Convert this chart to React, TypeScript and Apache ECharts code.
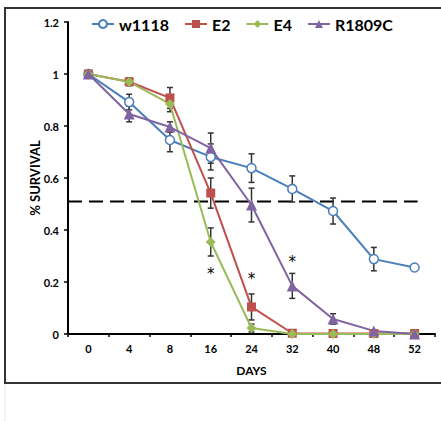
import React, { useEffect, useRef } from "react";
import * as echarts from "echarts";

const days = ["0", "4", "8", "16", "24", "32", "40", "48", "52"];
const w1118 = [1, 0.892, 0.746, 0.681, 0.638, 0.558, 0.473, 0.288, 0.256];
const e2 = [1, 0.97, 0.908, 0.542, 0.104, 0.003, 0.002, 0.002, 0.002];
const e4 = [1, 0.97, 0.885, 0.354, 0.023, 0, 0, 0, 0];
const r1809c = [1, 0.846, 0.796, 0.715, 0.496, 0.185, 0.058, 0.012, 0];
const errW1118 = [0, 0.03, 0.045, 0.05, 0.055, 0.05, 0.05, 0.045, 0];
const errE2 = [0, 0.015, 0.04, 0.058, 0.05, 0, 0, 0, 0];
const errE4 = [0, 0.01, 0.03, 0.054, 0.015, 0, 0, 0, 0];
const errR1809c = [0, 0.03, 0.02, 0.058, 0.065, 0.048, 0.02, 0, 0];
const threshold = 0.51;
const starPoints = [
  [3, 0.246],
  [4, 0.227],
  [5, 0.292],
];
const yTicks = [0, 0.2, 0.4, 0.6, 0.8, 1, 1.2];

const FONT = "Lato";

function errSeries(vals: number[], errs: number[]) {
  return {
    type: "custom",
    silent: true,
    z: 3,
    itemStyle: { color: "#333333" },
    data: vals.map((v, i) => [i, v, errs[i]]),
    renderItem: (params: any, api: any) => {
      const e = api.value(2);
      if (!e) return null;
      const x = api.value(0);
      const v = api.value(1);
      const top = api.coord([x, v + e]);
      const bot = api.coord([x, v - e]);
      const cw = 3;
      const style = { stroke: "#333333", lineWidth: 1.5 };
      return {
        type: "group",
        children: [
          { type: "line", shape: { x1: top[0], y1: top[1], x2: bot[0], y2: bot[1] }, style },
          { type: "line", shape: { x1: top[0] - cw, y1: top[1], x2: top[0] + cw, y2: top[1] }, style },
          { type: "line", shape: { x1: bot[0] - cw, y1: bot[1], x2: bot[0] + cw, y2: bot[1] }, style },
        ],
      };
    },
  };
}

export default function App() {
  const ref = useRef<HTMLDivElement>(null);
  useEffect(() => {
    document.body.style.margin = "0";
    const chart = echarts.init(ref.current!, null, { renderer: "svg" });
    const lineBase = (name: string, data: number[], color: string, symbol: string, size: number, open = false) => ({
      name,
      type: "line",
      data,
      symbol,
      symbolSize: size,
      z: 4,
      lineStyle: { color, width: 2 },
      itemStyle: open
        ? { color: "#ffffff", borderColor: color, borderWidth: 1.5 }
        : { color, borderColor: color, borderWidth: 0 },
    });
    chart.setOption({
      animation: false,
      backgroundColor: "#ffffff",
      textStyle: { fontFamily: FONT },
      grid: { left: 68, right: 6, top: 22, bottom: 87 },
      legend: {
        left: 86,
        top: 11,
        itemWidth: 22,
        itemHeight: 10,
        itemGap: 15,
        textStyle: { fontFamily: FONT, fontWeight: "bold", fontSize: 16, color: "#000" },
        data: ["w1118", "E2", "E4", "R1809C"],
      },
      graphic: [
        {
          type: "rect",
          shape: { x: 5, y: 8, width: 460, height: 375 },
          style: { fill: "none", stroke: "#333333", lineWidth: 2 },
          silent: true,
        },
        {
          type: "line",
          shape: { x1: 5, y1: 384, x2: 5, y2: 421 },
          style: { stroke: "#e6e6e6", lineWidth: 1 },
          silent: true,
        },
      ],
      xAxis: {
        type: "category",
        data: days,
        boundaryGap: true,
        name: "DAYS",
        nameLocation: "middle",
        nameGap: 30,
        nameMoveOverlap: false,
        nameTextStyle: { fontFamily: FONT, fontWeight: "bold", fontSize: 12, color: "#000" },
        axisLine: { lineStyle: { color: "#000", width: 2 } },
        axisTick: { show: true, length: 3, lineStyle: { color: "#000", width: 1.5 } },
        axisLabel: { fontFamily: FONT, fontWeight: "bold", fontSize: 11, color: "#000", margin: 9 },
      },
      yAxis: {
        type: "value",
        min: 0,
        max: 1.2,
        interval: 0.2,
        name: "% SURVIVAL",
        nameLocation: "middle",
        nameGap: 27,
        nameMoveOverlap: false,
        nameTextStyle: { fontFamily: FONT, fontWeight: "bold", fontSize: 13, color: "#000" },
        axisLine: { show: true, lineStyle: { color: "#000", width: 2 } },
        axisTick: { show: true, length: 4, lineStyle: { color: "#000", width: 1.5 } },
        splitLine: { show: false },
        axisLabel: {
          fontFamily: FONT,
          fontWeight: "bold",
          fontSize: 11,
          color: "#000",
          margin: 9,
          formatter: (v: number) => {
            const t = yTicks.find((y) => Math.abs(y - v) < 1e-6);
            return t === undefined ? "" : String(t);
          },
        },
      },
      series: [
        {
          type: "custom",
          silent: true,
          z: 2,
          itemStyle: { color: "#000" },
          data: [[0, threshold]],
          renderItem: (params: any, api: any) => {
            const cs = params.coordSys;
            const p = api.coord([0, api.value(1)]);
            const end = api.coord([days.length - 1, api.value(1)]);
            return {
              type: "line",
              shape: { x1: cs.x, y1: p[1], x2: end[0] + 3, y2: p[1] },
              style: { stroke: "#000", lineWidth: 2, lineDash: [14, 7] },
            };
          },
        },
        lineBase("w1118", w1118, "#4a7ebb", "circle", 9, true),
        lineBase("E2", e2, "#c0504d", "rect", 9),
        lineBase("E4", e4, "#9bbb59", "diamond", 10),
        lineBase("R1809C", r1809c, "#8064a2", "triangle", 11),
        errSeries(w1118, errW1118),
        errSeries(e2, errE2),
        errSeries(e4, errE4),
        errSeries(r1809c, errR1809c),
        {
          type: "custom",
          silent: true,
          z: 5,
          itemStyle: { color: "#000" },
          data: starPoints,
          renderItem: (params: any, api: any) => {
            const p = api.coord([api.value(0), api.value(1)]);
            return {
              type: "text",
              x: p[0],
              y: p[1] + 4,
              style: {
                text: "*",
                fontFamily: "DejaVu Sans",
                fontWeight: "normal",
                fontSize: 15,
                fill: "#000",
                align: "center",
                verticalAlign: "middle",
              },
            };
          },
        },
      ],
    });
    return () => chart.dispose();
  }, []);
  return <div ref={ref} style={{ width: 441, height: 421 }} />;
}
